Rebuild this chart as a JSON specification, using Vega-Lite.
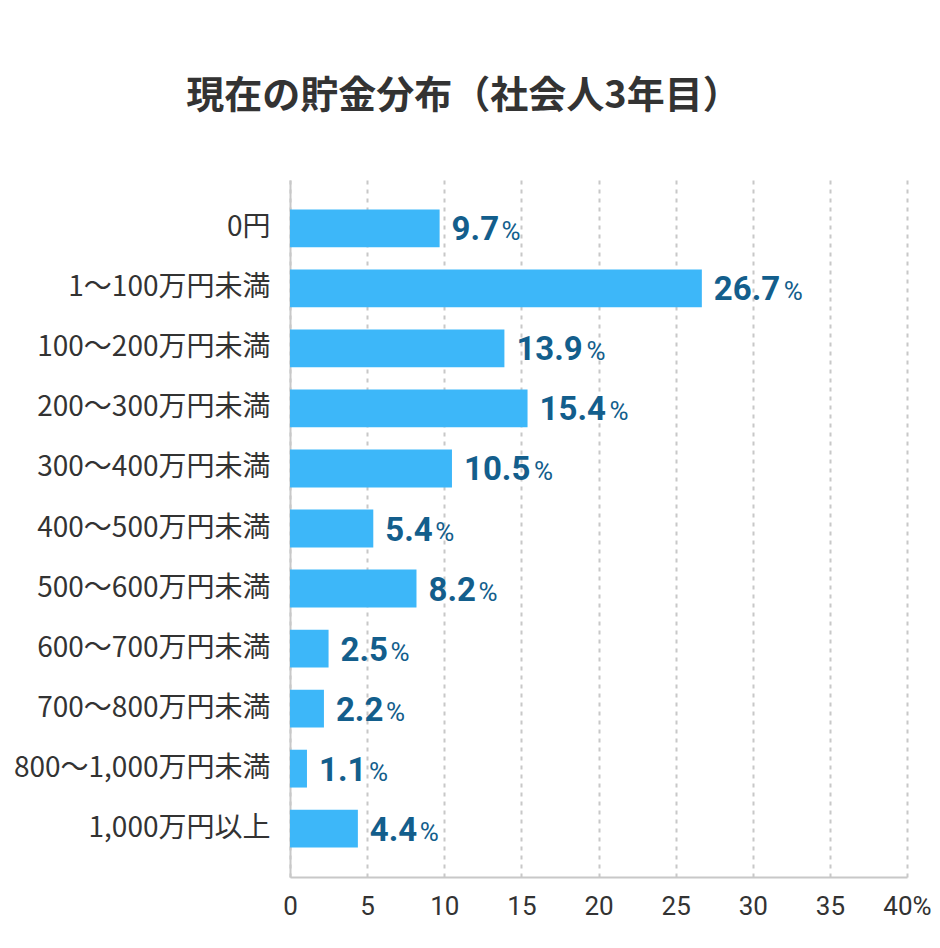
{
  "$schema": "https://vega.github.io/schema/vega-lite/v6.json",
  "width": 617,
  "height": 697,
  "autosize": {"type": "none"},
  "padding": {"left": 290, "top": 180, "right": 33, "bottom": 71},
  "background": "#ffffff",
  "title": {
    "text": "現在の貯金分布（社会人3年目）",
    "font": "Noto Sans CJK JP",
    "fontSize": 38,
    "fontWeight": "bold",
    "color": "#333333",
    "anchor": "middle",
    "frame": "group",
    "dx": -135,
    "offset": 64
  },
  "config": {
    "view": {"stroke": null},
    "font": "Noto Sans CJK JP"
  },
  "data": {
    "values": [
      {"category": "0円", "value": 9.7},
      {"category": "1〜100万円未満", "value": 26.7},
      {"category": "100〜200万円未満", "value": 13.9},
      {"category": "200〜300万円未満", "value": 15.4},
      {"category": "300〜400万円未満", "value": 10.5},
      {"category": "400〜500万円未満", "value": 5.4},
      {"category": "500〜600万円未満", "value": 8.2},
      {"category": "600〜700万円未満", "value": 2.5},
      {"category": "700〜800万円未満", "value": 2.2},
      {"category": "800〜1,000万円未満", "value": 1.1},
      {"category": "1,000万円以上", "value": 4.4}
    ]
  },
  "encoding": {
    "y": {
      "field": "category",
      "type": "nominal",
      "sort": null,
      "title": null,
      "scale": {"paddingInner": 0.37, "paddingOuter": 0.49},
      "axis": {
        "ticks": false,
        "labelFontSize": 28,
        "labelLimit": 300,
        "labelColor": "#333333",
        "labelPadding": 20,
        "domainColor": "#c8c8c8",
        "domainWidth": 2,
        "labelFont": "Noto Sans CJK JP"
      }
    },
    "x": {
      "field": "value",
      "type": "quantitative",
      "title": null,
      "scale": {"domain": [0, 40], "nice": false},
      "axis": {
        "values": [0, 5, 10, 15, 20, 25, 30, 35, 40],
        "labelExpr": "datum.value == 40 ? '40%' : datum.label",
        "ticks": false,
        "grid": true,
        "gridColor": "#c8c8c8",
        "gridDash": [4, 5],
        "gridWidth": 2,
        "domainColor": "#c8c8c8",
        "domainWidth": 2,
        "labelFontSize": 26,
        "labelColor": "#333333",
        "labelPadding": 16,
        "labelFont": "Roboto",
        "labelFlush": false
      }
    }
  },
  "layer": [
    {
      "mark": {"type": "bar", "color": "#3db7f9"}
    },
    {
      "mark": {
        "type": "text",
        "align": "left",
        "baseline": "middle",
        "dx": 12,
        "dy": 2,
        "font": "Roboto",
        "fontSize": 33,
        "fontWeight": "bold",
        "color": "#135e8c"
      },
      "encoding": {
        "text": {"field": "value", "type": "quantitative", "format": ".1f"}
      }
    },
    {
      "transform": [{"filter": "datum.value < 10"}],
      "mark": {
        "type": "text",
        "align": "left",
        "baseline": "middle",
        "dx": 62,
        "dy": 4,
        "font": "Roboto",
        "fontSize": 26,
        "color": "#135e8c"
      },
      "encoding": {
        "text": {"value": "%"}
      }
    },
    {
      "transform": [{"filter": "datum.value >= 10"}],
      "mark": {
        "type": "text",
        "align": "left",
        "baseline": "middle",
        "dx": 82,
        "dy": 4,
        "font": "Roboto",
        "fontSize": 26,
        "color": "#135e8c"
      },
      "encoding": {
        "text": {"value": "%"}
      }
    }
  ]
}
